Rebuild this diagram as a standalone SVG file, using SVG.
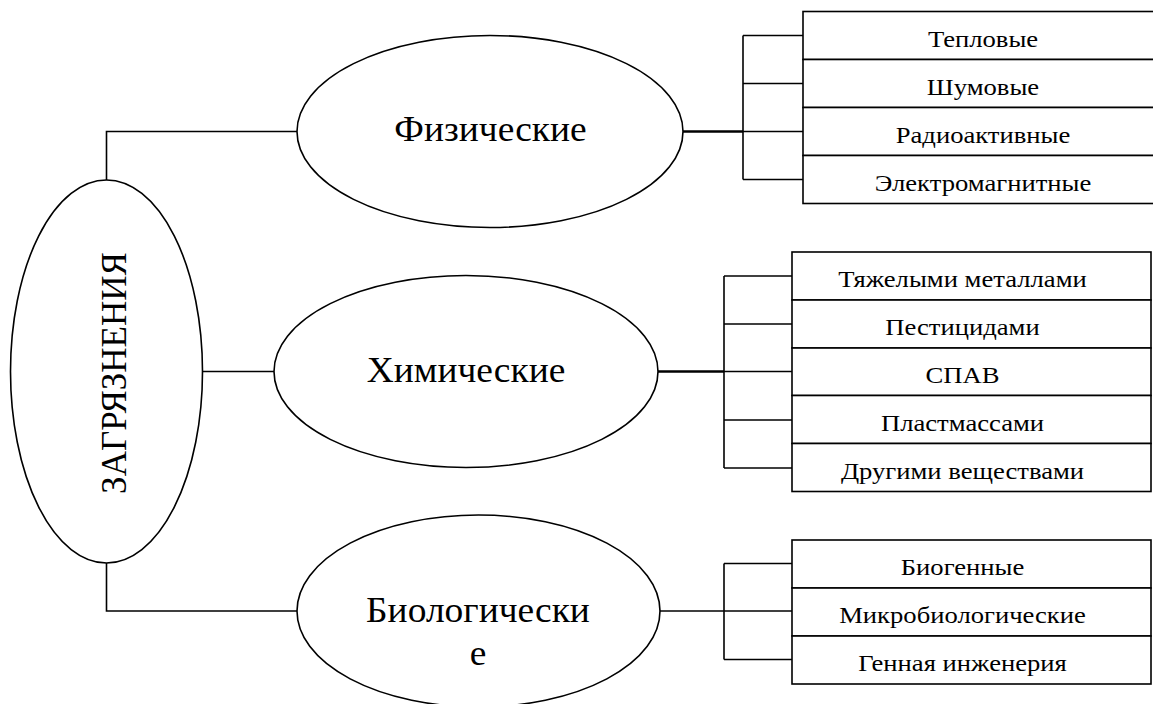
<svg xmlns="http://www.w3.org/2000/svg" width="1153" height="704" viewBox="0 0 1153 704">
  <style>
    .shape { fill: #fff; stroke: #000; stroke-width: 1.6; }
    .link { fill: none; stroke: #000; stroke-width: 1.6; }
    .link.bold { stroke-width: 2.6; }
    text { font-family: 'Liberation Serif', 'Times New Roman', 'DejaVu Serif', serif; text-anchor: middle; fill: #000; }
    .big { font-size: 35px; }
    .item { font-size: 24px; }
  </style>
  <rect width="1153" height="704" fill="#fff"/>

  <!-- connectors -->
  <g id="connectors">
    <!-- root to categories -->
    <polyline class="link" points="106.5,180 106.5,131.5 297,131.5"/>
    <line class="link" x1="202.5" y1="371.5" x2="274" y2="371.5"/>
    <polyline class="link" points="106.5,563 106.5,611 297,611"/>

    <!-- physical bracket -->
    <line class="link bold" x1="683" y1="131.5" x2="743" y2="131.5"/>
    <line class="link" x1="743" y1="35.5" x2="743" y2="179.5"/>
    <line class="link" x1="743" y1="35.5" x2="803" y2="35.5"/>
    <line class="link" x1="743" y1="83.5" x2="803" y2="83.5"/>
    <line class="link" x1="743" y1="131.5" x2="803" y2="131.5"/>
    <line class="link" x1="743" y1="179.5" x2="803" y2="179.5"/>

    <!-- chemical bracket -->
    <line class="link bold" x1="658" y1="371.5" x2="724" y2="371.5"/>
    <line class="link" x1="724" y1="276" x2="724" y2="468"/>
    <line class="link" x1="724" y1="276" x2="792" y2="276"/>
    <line class="link" x1="724" y1="324" x2="792" y2="324"/>
    <line class="link" x1="724" y1="371.5" x2="792" y2="371.5"/>
    <line class="link" x1="724" y1="420" x2="792" y2="420"/>
    <line class="link" x1="724" y1="468" x2="792" y2="468"/>

    <!-- biological bracket -->
    <line class="link" x1="660" y1="611" x2="724" y2="611"/>
    <line class="link" x1="724" y1="563.5" x2="724" y2="659.5"/>
    <line class="link" x1="724" y1="563.5" x2="792" y2="563.5"/>
    <line class="link" x1="724" y1="611" x2="792" y2="611"/>
    <line class="link" x1="724" y1="659.5" x2="792" y2="659.5"/>
  </g>

  <!-- root node -->
  <g id="root">
    <ellipse class="shape" cx="106.5" cy="371.5" rx="96" ry="191.5"/>
    <text class="big" transform="translate(126,373) rotate(-90)">ЗАГРЯЗНЕНИЯ</text>
  </g>

  <!-- category nodes (labels slightly widened) -->
  <g id="physical">
    <ellipse class="shape" cx="490" cy="131.5" rx="193" ry="96"/>
    <text class="big" transform="translate(490.5,141) scale(1.07,1)">Физические</text>
  </g>
  <g id="chemical">
    <ellipse class="shape" cx="466" cy="371.5" rx="192" ry="96"/>
    <text class="big" transform="translate(466,382) scale(1.07,1)">Химические</text>
  </g>
  <g id="biological">
    <ellipse class="shape" cx="478.5" cy="611" rx="181.5" ry="96"/>
    <text class="big" transform="translate(478,622) scale(1.07,1)">Биологически</text>
    <text class="big" transform="translate(478,665) scale(1.07,1)">е</text>
  </g>

  <!-- physical items -->
  <g id="phys-items">
    <g id="thermal"><rect class="shape" x="803" y="11.5" width="360" height="48"/><text class="item" transform="translate(983,46.5) scale(1.11,1)">Тепловые</text></g>
    <g id="noise"><rect class="shape" x="803" y="59.5" width="360" height="48"/><text class="item" transform="translate(983,94.5) scale(1.11,1)">Шумовые</text></g>
    <g id="radioactive"><rect class="shape" x="803" y="107.5" width="360" height="48"/><text class="item" transform="translate(983,142.5) scale(1.11,1)">Радиоактивные</text></g>
    <g id="electromagnetic"><rect class="shape" x="803" y="155.5" width="360" height="48"/><text class="item" transform="translate(983,190.5) scale(1.11,1)">Электромагнитные</text></g>
  </g>

  <!-- chemical items -->
  <g id="chem-items">
    <g id="heavy-metals"><rect class="shape" x="792" y="252" width="359" height="48"/><text class="item" transform="translate(962.5,287) scale(1.11,1)">Тяжелыми металлами</text></g>
    <g id="pesticides"><rect class="shape" x="792" y="300" width="359" height="48"/><text class="item" transform="translate(962.5,335) scale(1.11,1)">Пестицидами</text></g>
    <g id="surfactants"><rect class="shape" x="792" y="348" width="359" height="47.5"/><text class="item" transform="translate(962.5,382.5) scale(1.11,1)">СПАВ</text></g>
    <g id="plastics"><rect class="shape" x="792" y="395.5" width="359" height="48"/><text class="item" transform="translate(962.5,430.5) scale(1.11,1)">Пластмассами</text></g>
    <g id="other-substances"><rect class="shape" x="792" y="443.5" width="359" height="48"/><text class="item" transform="translate(962.5,478.5) scale(1.11,1)">Другими веществами</text></g>
  </g>

  <!-- biological items -->
  <g id="bio-items">
    <g id="biogenic"><rect class="shape" x="792" y="540" width="359" height="48"/><text class="item" transform="translate(962.5,575) scale(1.11,1)">Биогенные</text></g>
    <g id="microbiological"><rect class="shape" x="792" y="588" width="359" height="48"/><text class="item" transform="translate(962.5,623) scale(1.11,1)">Микробиологические</text></g>
    <g id="genetic-engineering"><rect class="shape" x="792" y="636" width="359" height="48"/><text class="item" transform="translate(962.5,671) scale(1.11,1)">Генная инженерия</text></g>
  </g>
</svg>
